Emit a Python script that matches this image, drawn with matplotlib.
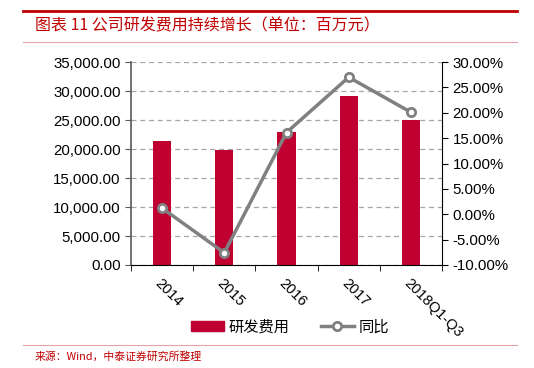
import matplotlib
matplotlib.use("Agg")
import matplotlib.pyplot as plt
from matplotlib.lines import Line2D
from matplotlib.patches import Patch
from matplotlib.ticker import FuncFormatter, FixedLocator
import numpy as np

plt.rcParams['font.family'] = ['Liberation Sans', 'Noto Sans CJK SC', 'DejaVu Sans']

# data
years = ["2014", "2015", "2016", "2017", "2018Q1-Q3"]
rd_cost = [21400, 19800, 22900, 29150, 25000]      # 百万元
yoy = [1.2, -7.6, 16.1, 27.0, 20.1]                # %

RED = "#C00030"
GREY = "#808080"
PINK = "#E8A3AA"
W, H = 534, 368
CJK = ["Noto Sans CJK SC", "DejaVu Sans"]

fig = plt.figure(figsize=(W / 100, H / 100), dpi=100)

# header / footer rules and text
fig.add_artist(Line2D([23 / W, 517 / W], [1 - 11 / H] * 2, color="#C00000", lw=2))
fig.add_artist(Line2D([23 / W, 517 / W], [1 - 42 / H] * 2, color=PINK, lw=0.8))
fig.add_artist(Line2D([23 / W, 517 / W], [1 - 345 / H] * 2, color=PINK, lw=0.8))
fig.text(35 / W, 1 - 26 / H, "图表 11 公司研发费用持续增长（单位：百万元）",
         color="#C00000", fontsize=11.5, va="center", ha="left", family=CJK)
fig.text(35 / W, 1 - 357 / H, "来源：Wind，中泰证券研究所整理",
         color="#C00000", fontsize=7.8, va="center", ha="left", family=CJK)

ax = fig.add_axes([131 / W, 1 - 265 / H, 311 / W, 203 / H])
x = np.arange(len(years))
ax.bar(x, rd_cost, width=0.29, color=RED, zorder=2)
ax.set_xlim(-0.5, len(years) - 0.5)
ax.set_ylim(0, 35000)
ax.set_yticks(np.arange(0, 35001, 5000))
ax.yaxis.set_major_formatter(FuncFormatter(lambda v, p: f"{v:,.2f}"))
ax.grid(axis="y", ls=(0, (4, 3)), color="#A6A6A6", lw=0.9, zorder=0)
ax.set_axisbelow(True)

ax.set_xticks(x)
ax.set_xticklabels(years, rotation=-45, ha="left", va="top",
                   rotation_mode="anchor", fontsize=10.5)
ax.tick_params(axis="x", which="major", length=0, pad=8)
ax.xaxis.set_minor_locator(FixedLocator(np.arange(-0.5, len(years), 1.0)))
ax.tick_params(axis="x", which="minor", length=4, direction="out", color="black")
ax.tick_params(axis="y", length=4, direction="out", labelsize=10.8, color="#595959")

for s in ["top", "right"]:
    ax.spines[s].set_visible(False)
ax.spines["left"].set_color("#595959")
ax.spines["left"].set_linewidth(1.2)
ax.spines["bottom"].set_color("black")

ax2 = ax.twinx()
ax2.plot(x, yoy, color=GREY, lw=2.5, marker="o", ms=6,
         mfc="white", mec=GREY, mew=2, zorder=3)
ax2.set_ylim(-10, 30)
ax2.set_yticks(np.arange(-10, 30.1, 5))
ax2.yaxis.set_major_formatter(FuncFormatter(lambda v, p: f"{v:.2f}%"))
ax2.tick_params(axis="y", length=4, direction="out", labelsize=10.8)
for s in ["top", "left", "bottom"]:
    ax2.spines[s].set_visible(False)
ax2.spines["right"].set_color("black")

handles = [Patch(color=RED),
           Line2D([], [], color=GREY, lw=2.5, marker="o", ms=6,
                  mfc="white", mec=GREY, mew=2)]
fig.legend(handles, ["研发费用", "同比"], loc="center",
           bbox_to_anchor=(290 / W, 1 - 327 / H), ncol=2, frameon=False,
           prop={"family": CJK, "size": 11},
           handlelength=2.2, handleheight=0.6, columnspacing=2.0, handletextpad=0.3)

fig.savefig("out.png", dpi=100)
